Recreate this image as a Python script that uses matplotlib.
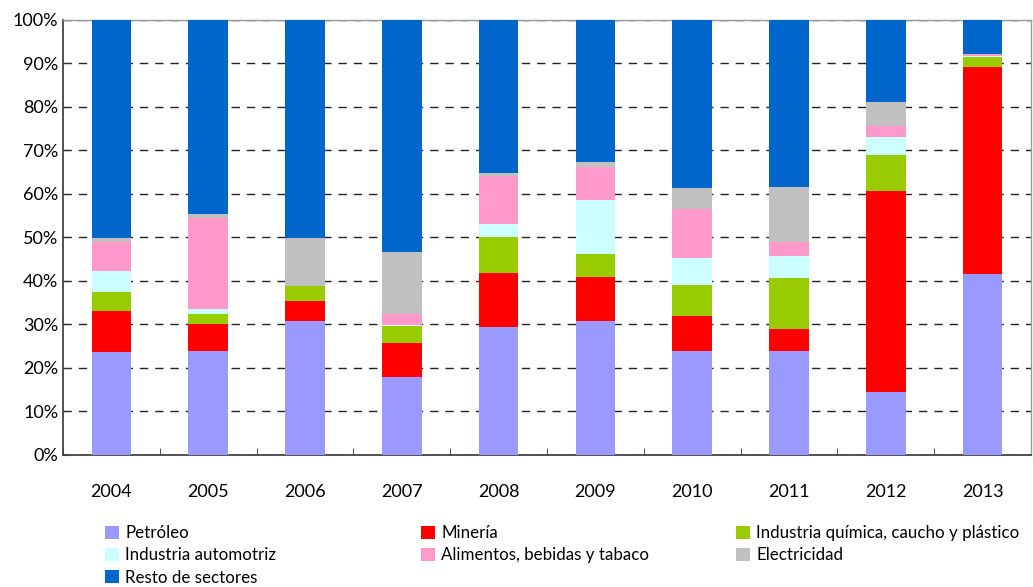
import numpy as np
import matplotlib.pyplot as plt
from matplotlib.ticker import MultipleLocator, FuncFormatter

plt.rcParams['font.family'] = ['Lato', 'DejaVu Sans']

years = ['2004', '2005', '2006', '2007', '2008', '2009', '2010', '2011', '2012', '2013']

# shares (%) by sector
petroleo     = [23.6, 24.0, 30.9, 18.0, 29.5, 30.7, 23.8, 24.0, 14.4, 41.5]
mineria      = [9.6, 6.2, 4.6, 7.7, 12.4, 10.1, 8.1, 4.9, 46.2, 47.7]
quimica      = [4.2, 2.1, 3.3, 3.9, 8.1, 5.3, 7.1, 11.7, 8.3, 2.3]
automotriz   = [4.8, 1.2, 0.0, 0.2, 3.2, 12.4, 6.2, 5.1, 4.2, 0.3]
alimentos    = [6.8, 21.0, 0.0, 2.6, 10.9, 7.6, 11.3, 3.3, 2.5, 0.4]
electricidad = [0.8, 0.9, 11.0, 14.2, 0.8, 1.2, 4.8, 12.6, 5.5, 0.0]
resto        = [50.2, 44.6, 50.2, 53.4, 35.1, 32.7, 38.7, 38.4, 18.9, 7.8]

series = [
    ('Petróleo', petroleo, '#9999ff'),
    ('Minería', mineria, '#ff0000'),
    ('Industria química, caucho y plástico', quimica, '#99cc00'),
    ('Industria automotriz', automotriz, '#ccffff'),
    ('Alimentos, bebidas y tabaco', alimentos, '#ff99cc'),
    ('Electricidad', electricidad, '#c0c0c0'),
    ('Resto de sectores', resto, '#0066cc'),
]

fig = plt.figure(figsize=(10.33, 5.87), dpi=100)
ax = fig.add_axes([0.061, 0.225, 0.937, 0.741])

x = np.arange(len(years))
bottom = np.zeros(len(years))
handles = []
for name, vals, col in series:
    vals = np.array(vals)
    b = ax.bar(x, vals, 0.41, bottom=bottom, color=col, label=name, zorder=3)
    handles.append(b)
    bottom += vals

ax.set_xlim(-0.5, len(years) - 0.5)
ax.set_ylim(0, 100)
ax.yaxis.set_major_locator(MultipleLocator(10))
ax.yaxis.set_major_formatter(FuncFormatter(lambda v, p: '%d%%' % v))
ax.set_xticks(x)
ax.set_xticklabels(years)
ax.set_xticks(np.arange(-0.5, len(years), 1), minor=True)
ax.tick_params(axis='x', which='major', length=0, pad=21, labelsize=13)
ax.tick_params(axis='x', which='minor', direction='in', length=5, color='#333333')
ax.tick_params(axis='y', direction='in', length=4, labelsize=13, color='#333333')
ax.grid(axis='y', linestyle=(0, (6, 5)), color='#222222', linewidth=1.0, zorder=1)
for s in ['left', 'bottom']:
    ax.spines[s].set_color('#444444')
    ax.spines[s].set_linewidth(1.3)
for s in ['top', 'right']:
    ax.spines[s].set_color('#999999')
    ax.spines[s].set_linewidth(1.0)

# legend in three columns, rows read P, M, Q / A, Al, E / R
columns = [[0, 3, 6], [1, 4], [2, 5]]
col_x = [0.1017, 0.4076, 0.7125]
for idx, cx in zip(columns, col_x):
    fig.legend([handles[i] for i in idx], [series[i][0] for i in idx],
               loc='upper left', bbox_to_anchor=(cx, 0.105), frameon=False,
               fontsize=12.2, handlelength=0.85, handleheight=0.85,
               handletextpad=0.35, labelspacing=0.36, borderpad=0, borderaxespad=0)

fig.savefig('out.png', dpi=100)
